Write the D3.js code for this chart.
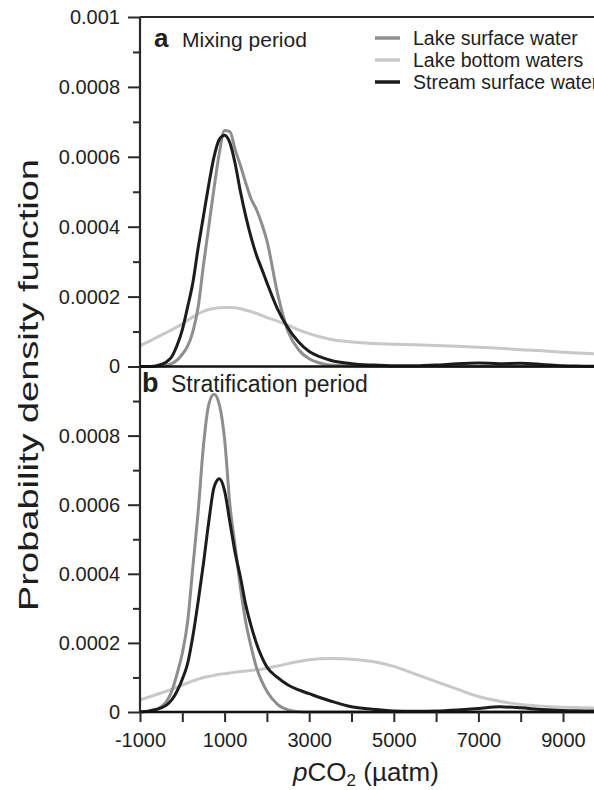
<!DOCTYPE html>
<html>
<head>
<meta charset="utf-8">
<script src="https://cdn.jsdelivr.net/npm/d3@7"></script>
<style>
  html, body { margin: 0; padding: 0; background: #fff; }
  svg { display: block; font-family: "Liberation Sans", Arial, Helvetica, sans-serif; }
</style>
</head>
<body>
<svg id="chart" width="594" height="790"></svg>
<script>
// ---------- DATA ----------
const pco2Grid = [-1000,-750,-500,-375,-250,-125,0,125,250,375,500,625,750,875,1000,1125,1250,1375,1500,1625,1750,1875,2000,2250,2500,2750,3000,3250,3500,4000,4500,5000,5500,6000,6500,7000,7500,8000,8500,9000,9500,10000];

const seriesNames = ["Lake surface water", "Lake bottom waters", "Stream surface water"];
const seriesColors = ["#8e8e8e", "#c8c8c8", "#1c1c1c"];

// Panel a – mixing period
const mixLakeSurface = [0,0,0.000001,0.000003,0.000008,0.000018,0.000035,0.000058,0.0001,0.00017,0.00029,0.0004,0.00051,0.00061,0.000675,0.000672,0.00062,0.000575,0.000525,0.00048,0.00045,0.00041,0.00036,0.00021,0.0001,0.000048,0.000022,0.00001,0.000004,0.000002,0.000001,0,0,0,0,0,0,0,0,0,0,0];
const mixLakeBottom  = [0.00006,0.000074,0.00009,0.000097,0.000105,0.000113,0.000122,0.000132,0.000142,0.000151,0.000158,0.000163,0.000166,0.000168,0.000169,0.000169,0.000168,0.000165,0.000161,0.000157,0.000152,0.000146,0.00014,0.00013,0.000118,0.000105,0.000094,0.000085,0.000078,0.00007,0.000066,0.000064,0.000062,0.00006,0.000058,0.000055,0.000052,0.000048,0.000045,0.000041,0.000038,0.000035];
const mixStream      = [0,0,0.000006,0.000013,0.000028,0.00006,0.000105,0.00017,0.00024,0.00034,0.00043,0.00052,0.0006,0.00065,0.000662,0.00064,0.00058,0.0005,0.00043,0.00037,0.00032,0.00028,0.00024,0.000165,0.00011,0.00007,0.000043,0.000028,0.000018,0.000008,0.000004,0.000002,0.000002,0.000004,0.000008,0.00001,0.000008,0.000009,0.000006,0.000002,0.000001,0];

// Panel b – stratification period
const stratLakeSurface = [0,0.000002,0.000015,0.00003,0.00006,0.00011,0.00017,0.00026,0.00042,0.00058,0.00077,0.00089,0.00092,0.00089,0.00079,0.0006,0.00048,0.00036,0.00026,0.00019,0.00013,0.00009,0.00006,0.000022,0.000006,0.000001,0,0,0,0,0,0,0,0,0,0,0,0,0,0,0,0];
const stratLakeBottom  = [0.000035,0.000045,0.000055,0.00006,0.000066,0.000072,0.000078,0.000084,0.00009,0.000095,0.0001,0.000103,0.000106,0.000109,0.000111,0.000113,0.000115,0.000117,0.000119,0.00012,0.000122,0.000124,0.000127,0.000133,0.00014,0.000146,0.000151,0.000154,0.000155,0.000153,0.000146,0.000132,0.00011,0.000088,0.000066,0.000045,0.000031,0.000022,0.000017,0.000014,0.000012,0.000011];
const stratStream      = [0,0.000004,0.000012,0.00002,0.000035,0.00006,0.000095,0.00014,0.00022,0.00032,0.00043,0.00055,0.00065,0.000675,0.00064,0.00055,0.00046,0.00039,0.00031,0.00025,0.0002,0.00016,0.00013,0.0001,0.000078,0.000064,0.000053,0.000042,0.000032,0.000015,0.000008,0.000003,0.000002,0.000003,0.000006,0.00001,0.000015,0.000012,0.000007,0.000004,0.000003,0.000002];

const xTickValues = [-1000,0,1000,2000,3000,4000,5000,6000,7000,8000,9000,10000];
const xTickLabels = ["-1000","","1000","","3000","","5000","","7000","","9000",""];
const yMajorA = [0,0.0002,0.0004,0.0006,0.0008,0.001];
const yLabelsA = ["0","0.0002","0.0004","0.0006","0.0008","0.001"];
const yMajorB = [0,0.0002,0.0004,0.0006,0.0008];
const yLabelsB = ["0","0.0002","0.0004","0.0006","0.0008"];
const yMinor = [0.0001,0.0003,0.0005,0.0007,0.0009];

// ---------- LAYOUT ----------
const svg = d3.select("#chart");
const W = 594;
const left = 140;
const x = d3.scaleLinear().domain([-1000, 10000]).range([left, left + 11 * 42.3]);
const yA = d3.scaleLinear().domain([0, 0.001]).range([366.5, 17]);
const yB = d3.scaleLinear().domain([0, 0.001]).range([712, 366.5]);
const axisColor = "#2a2a2a";
const textColor = "#1e1e1e";

svg.append("defs").append("clipPath").attr("id", "plotclip")
  .append("rect").attr("x", left).attr("y", 0).attr("width", W - left).attr("height", 790);

function drawPanel(y, sets) {
  const line = d3.line()
    .x((d, i) => x(pco2Grid[i]))
    .y(d => y(d))
    .curve(d3.curveMonotoneX);
  const g = svg.append("g").attr("clip-path", "url(#plotclip)");
  sets.forEach(s => {
    g.append("path")
      .datum(s.values)
      .attr("d", line)
      .attr("fill", "none")
      .attr("stroke", s.color)
      .attr("stroke-width", 3)
      .attr("stroke-linejoin", "round");
  });
}

drawPanel(yA, [
  { values: mixLakeBottom, color: seriesColors[1] },
  { values: mixLakeSurface, color: seriesColors[0] },
  { values: mixStream, color: seriesColors[2] }
]);
drawPanel(yB, [
  { values: stratLakeBottom, color: seriesColors[1] },
  { values: stratLakeSurface, color: seriesColors[0] },
  { values: stratStream, color: seriesColors[2] }
]);

// ---------- AXES ----------
function yAxis(y, majors, labels) {
  const g = svg.append("g").attr("transform", `translate(${left},0)`);
  g.call(d3.axisLeft(y).tickValues(majors).tickSize(12).tickPadding(8)
      .tickFormat((d, i) => labels[i]).tickSizeOuter(0));
  g.select(".domain").remove();
  g.selectAll(".tick line").attr("stroke", axisColor).attr("stroke-width", 2);
  g.selectAll(".tick text").attr("font-size", 20).attr("fill", textColor)
    .attr("font-family", "'Liberation Sans', Arial, sans-serif");
  const gm = svg.append("g").attr("transform", `translate(${left},0)`);
  gm.call(d3.axisLeft(y).tickValues(yMinor).tickSize(7).tickFormat(""));
  gm.select(".domain").remove();
  gm.selectAll(".tick line").attr("stroke", axisColor).attr("stroke-width", 2);
}
yAxis(yA, yMajorA, yLabelsA);
yAxis(yB, yMajorB, yLabelsB);

// vertical axis line
svg.append("line").attr("x1", left).attr("x2", left).attr("y1", yA(0.001)).attr("y2", yB(0))
  .attr("stroke", axisColor).attr("stroke-width", 2.2);

// horizontal frame lines
[[yA(0.001), 2, axisColor], [yA(0), 2.6, "#111"], [yB(0), 2.4, "#111"]].forEach(([yy, sw, c]) => {
  svg.append("line").attr("x1", left).attr("x2", W).attr("y1", yy).attr("y2", yy)
    .attr("stroke", c).attr("stroke-width", sw);
});

// bottom x axis
const gx = svg.append("g").attr("transform", `translate(0,${yB(0)})`);
gx.call(d3.axisBottom(x).tickValues(xTickValues).tickSize(10).tickPadding(11)
  .tickFormat((d, i) => xTickLabels[i]).tickSizeOuter(0));
gx.select(".domain").remove();
gx.selectAll(".tick line").attr("stroke", axisColor).attr("stroke-width", 2);
gx.selectAll(".tick text").attr("font-size", 20).attr("fill", textColor)
  .attr("font-family", "'Liberation Sans', Arial, sans-serif");

// ---------- TITLES ----------
const xt = svg.append("text").attr("x", 366).attr("y", 781).attr("text-anchor", "middle")
  .attr("font-size", 26).attr("fill", textColor);
xt.append("tspan").attr("font-style", "italic").text("p");
xt.append("tspan").text("CO");
xt.append("tspan").attr("font-size", 17).attr("dy", 5).text("2");
xt.append("tspan").attr("dy", -5).text(" (µatm)");

svg.append("text")
  .attr("transform", "translate(38,385) rotate(-90)")
  .attr("text-anchor", "middle").attr("font-size", 28).attr("fill", textColor)
  .attr("textLength", 452).attr("lengthAdjust", "spacingAndGlyphs")
  .text("Probability density function");

// panel labels
svg.append("text").attr("x", 154).attr("y", 47).attr("font-size", 26).attr("font-weight", "bold")
  .attr("fill", textColor).text("a");
svg.append("text").attr("x", 182).attr("y", 47).attr("font-size", 21).attr("fill", textColor)
  .text("Mixing period");
svg.append("text").attr("x", 142).attr("y", 392).attr("font-size", 27).attr("font-weight", "bold")
  .attr("fill", textColor).text("b");
svg.append("text").attr("x", 171).attr("y", 392).attr("font-size", 23).attr("fill", textColor)
  .text("Stratification period");

// legend
const legend = svg.append("g");
seriesNames.forEach((name, i) => {
  const yy = 38 + i * 22;
  legend.append("line").attr("x1", 375).attr("x2", 400).attr("y1", yy).attr("y2", yy)
    .attr("stroke", seriesColors[i]).attr("stroke-width", 3.5);
  legend.append("text").attr("x", 413).attr("y", yy + 7).attr("font-size", 19.5)
    .attr("fill", textColor).text(name);
});
</script>
</body>
</html>
